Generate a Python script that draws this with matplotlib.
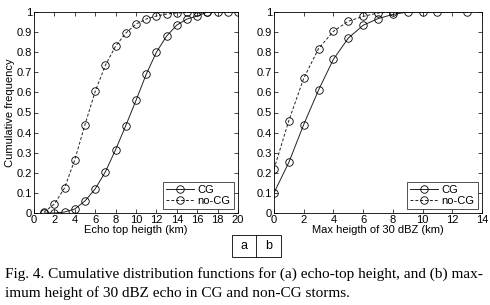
import numpy as np
import matplotlib.pyplot as plt
from matplotlib.patches import Rectangle
from matplotlib.lines import Line2D

# ── panel (a): echo-top height ──────────────────────────────────────
a_x_cg   = [1, 2, 3, 4, 5, 6, 7, 8, 9, 10, 11, 12, 13, 14, 15, 16, 17]
a_y_cg   = [0.0, 0.0, 0.005, 0.02, 0.06, 0.12, 0.205, 0.315, 0.435, 0.56,
            0.69, 0.80, 0.88, 0.935, 0.965, 0.98, 1.0]
a_x_ncg  = [1, 2, 3, 4, 5, 6, 7, 8, 9, 10, 11, 12, 13, 14, 15, 16, 17, 18, 19, 20]
a_y_ncg  = [0.005, 0.045, 0.125, 0.265, 0.44, 0.605, 0.735, 0.83, 0.895, 0.94,
            0.965, 0.98, 0.99, 0.995, 0.998, 1.0, 1.0, 1.0, 1.0, 1.0]

# ── panel (b): max height of 30 dBZ ─────────────────────────────────
b_x_cg   = [0, 1, 2, 3, 4, 5, 6, 7, 8, 9, 10, 11, 13]
b_y_cg   = [0.10, 0.252, 0.44, 0.612, 0.765, 0.87, 0.934, 0.967, 0.988,
            1.0, 1.0, 1.0, 1.0]
b_x_ncg  = [0, 1, 2, 3, 4, 5, 6, 7, 8]
b_y_ncg  = [0.218, 0.46, 0.67, 0.818, 0.904, 0.954, 0.978, 0.995, 1.0]

yticks = [0, 0.1, 0.2, 0.3, 0.4, 0.5, 0.6, 0.7, 0.8, 0.9, 1]
ytick_labels = ['0', '0.1', '0.2', '0.3', '0.4', '0.5', '0.6', '0.7', '0.8', '0.9', '1']

plt.rcParams['font.family'] = ['Liberation Sans', 'DejaVu Sans']

W, H = 490, 305
fig = plt.figure(figsize=(W / 100, H / 100), dpi=100)

def ax_rect(x0, y0, x1, y1):
    return [x0 / W, 1 - y1 / H, (x1 - x0) / W, (y1 - y0) / H]

ax_a = fig.add_axes(ax_rect(34, 12, 238, 213))
ax_b = fig.add_axes(ax_rect(274, 12, 482, 213))

mk = dict(marker='o', markersize=5.4, markerfacecolor='none',
          markeredgecolor='black', markeredgewidth=0.6, color='#222222',
          linewidth=0.7)

def style(ax, xmax, xticks):
    ax.set_xlim(0, xmax)
    ax.set_ylim(0, 1)
    ax.set_xticks(xticks)
    ax.set_yticks(yticks)
    ax.set_yticklabels(ytick_labels)
    ax.tick_params(direction='in', top=True, right=True, length=3,
                   width=0.5, labelsize=8, pad=1.5)
    for s in ax.spines.values():
        s.set_linewidth(0.6)

ax_a.plot(a_x_cg, a_y_cg, linestyle='-', label='CG', **mk)
ax_a.plot(a_x_ncg, a_y_ncg, linestyle='--', dashes=(3, 2), label='no-CG', **mk)
style(ax_a, 20, list(range(0, 21, 2)))
ax_a.set_xlabel('Echo top heigth (km)', fontsize=8, labelpad=0)
ax_a.set_ylabel('Cumulative frequency', fontsize=8, labelpad=1)

ax_b.plot(b_x_cg, b_y_cg, linestyle='-', label='CG', **mk)
ax_b.plot(b_x_ncg, b_y_ncg, linestyle='--', dashes=(3, 2), label='no-CG', **mk)
style(ax_b, 14, list(range(0, 15, 2)))
ax_b.set_xlabel('Max heigth of 30 dBZ (km)', fontsize=8, labelpad=0)

for ax in (ax_a, ax_b):
    leg = ax.legend(loc='lower right', fontsize=8, frameon=True, fancybox=False,
                    edgecolor='black', borderpad=0.25, handlelength=2.6,
                    handletextpad=0.3, labelspacing=0.1, borderaxespad=0.4,
                    markerscale=1.0)
    leg.get_frame().set_linewidth(0.6)

# ── "a | b" box ─────────────────────────────────────────────────────
fig.patches.append(Rectangle((232 / W, 1 - 257 / H), 49 / W, 22 / H,
                             transform=fig.transFigure, fill=False,
                             edgecolor='black', linewidth=0.6))
fig.lines.append(Line2D([256 / W, 256 / W], [1 - 257 / H, 1 - 235 / H],
                        transform=fig.transFigure, color='black', linewidth=0.6))
fig.text(244 / W, 1 - 246 / H, 'a', ha='center', va='center', fontsize=9)
fig.text(268.5 / W, 1 - 246 / H, 'b', ha='center', va='center', fontsize=9)

# ── caption ────────────────────────────────────────────────────────
cap = dict(fontsize=11, family=['Liberation Serif', 'DejaVu Serif'],
           ha='left', va='center')
fig.text(5 / W, 1 - 274 / H,
         'Fig. 4. Cumulative distribution functions for (a) echo-top height, and (b) max-',
         **cap)
fig.text(5 / W, 1 - 293 / H,
         'imum height of 30 dBZ echo in CG and non-CG storms.', **cap)

fig.savefig('out.png', dpi=100)
